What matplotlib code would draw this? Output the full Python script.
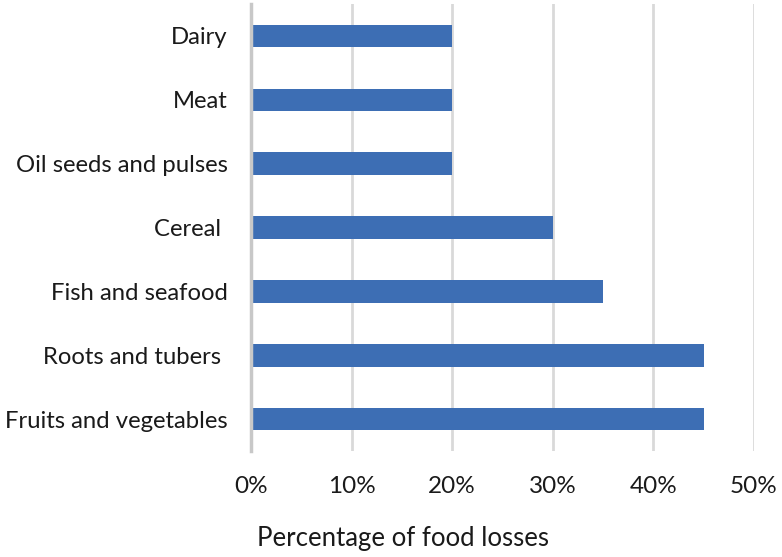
import matplotlib
matplotlib.use("Agg")
import matplotlib.pyplot as plt
from matplotlib.ticker import PercentFormatter

categories = ["Fruits and vegetables", "Roots and tubers ", "Fish and seafood",
              "Cereal ", "Oil seeds and pulses", "Meat", "Dairy"]
values = [45, 45, 35, 30, 20, 20, 20]
xticks = [0, 10, 20, 30, 40, 50]

plt.rcParams['font.family'] = ['Lato', 'DejaVu Sans']

fig = plt.figure(figsize=(7.82, 5.57), dpi=100)
ax = fig.add_axes([0.321, 0.190, 0.643, 0.803])

ax.barh(range(len(categories)), values, height=0.35, color="#3D6EB4", zorder=3)
ax.set_yticks(range(len(categories)))
ax.set_yticklabels(categories, fontsize=17.2, color="#1A1A1A")
ax.set_ylim(-0.5, len(categories) - 0.5)

ax.set_xlim(0, 50)
ax.set_xticks(xticks)
ax.xaxis.set_major_formatter(PercentFormatter(decimals=0))
ax.tick_params(axis='x', labelsize=17.5, colors="#1A1A1A", length=0, pad=18)
ax.tick_params(axis='y', length=0, pad=17)
ax.grid(axis='x', color="#D9D9D9", linewidth=2, zorder=0)
for s in ["top", "right", "bottom"]:
    ax.spines[s].set_visible(False)
ax.spines["left"].set_color("#C8C8C8")
ax.spines["left"].set_linewidth(2.5)
ax.spines["left"].set_zorder(4)

ax.set_xlabel("Percentage of food losses", fontsize=18.5, color="#1A1A1A")
ax.xaxis.set_label_coords(0.302, -0.168)

fig.savefig("out.png", dpi=100)
